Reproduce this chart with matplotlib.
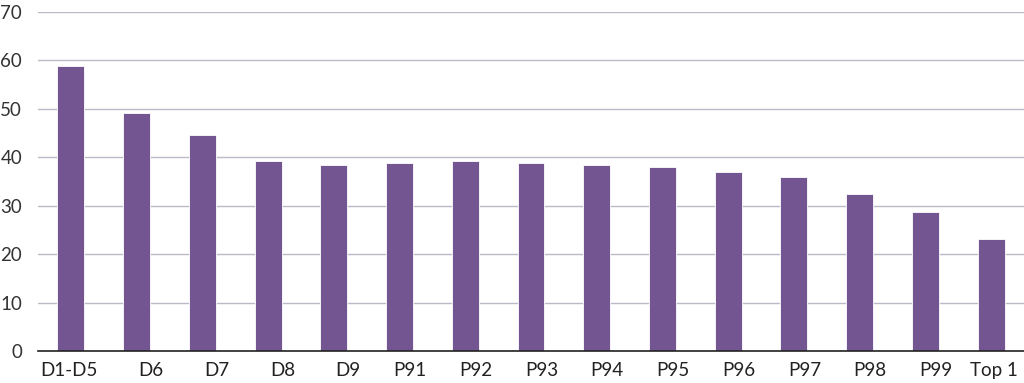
import matplotlib
matplotlib.use("Agg")
import matplotlib.pyplot as plt

categories = ["D1-D5", "D6", "D7", "D8", "D9", "P91", "P92", "P93", "P94",
              "P95", "P96", "P97", "P98", "P99", "Top 1"]
values = [58.9, 49.1, 44.7, 39.3, 38.4, 38.8, 39.3, 38.8, 38.4,
          37.9, 36.9, 35.9, 32.5, 28.6, 23.2]
yticks = [0, 10, 20, 30, 40, 50, 60, 70]

plt.rcParams['font.family'] = ['Lato', 'DejaVu Sans']

fig = plt.figure(figsize=(10.24, 3.83), dpi=100)
ax = fig.add_axes([0.0371, 0.0836, 0.9629, 0.8851])

x = list(range(len(categories)))
ax.bar(x, values, width=0.41, color="#725591", edgecolor="#ffffff",
       linewidth=0.6, zorder=3)

ax.set_xlim(-0.5, len(categories) - 0.5)
ax.set_ylim(0, 70)
ax.set_yticks(yticks)
ax.set_yticklabels([str(v) for v in yticks], fontsize=13.5, color="#333333")
ax.tick_params(axis='y', length=0, pad=11.5)
ax.yaxis.grid(True, color="#b9bcc8", linewidth=1.0, zorder=0)
ax.set_axisbelow(True)

ax.set_xticks([i + 0.41 for i in x])
ax.set_xticklabels(categories, fontsize=13.5, color="#222222", ha='right')
ax.tick_params(axis='x', length=0, pad=8)

for s in ['top', 'right', 'left']:
    ax.spines[s].set_visible(False)
ax.spines['bottom'].set_color("#222222")
ax.spines['bottom'].set_linewidth(1.2)
ax.spines['bottom'].set_zorder(4)

fig.savefig("out.png", dpi=100)
